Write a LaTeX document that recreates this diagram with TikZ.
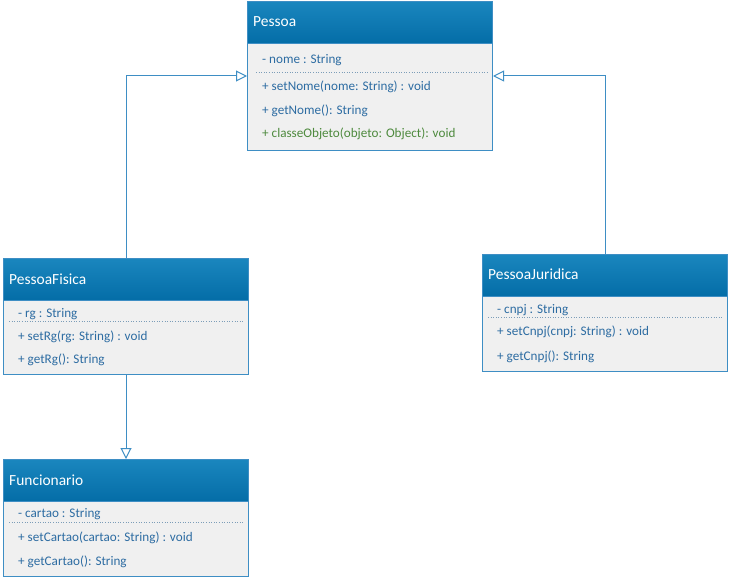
\documentclass[tikz,border=0pt]{standalone}
\usepackage{fontspec}
\setmainfont{Carlito}
\usetikzlibrary{arrows.meta}
\definecolor{umlborder}{HTML}{3E8EC4}
\definecolor{umlheadtop}{HTML}{1A86BE}
\definecolor{umlheadbot}{HTML}{046DA7}
\definecolor{umlbody}{HTML}{F0F0F0}
\definecolor{umltext}{HTML}{2D6CA2}
\definecolor{umlgreen}{HTML}{4E8A3E}
\definecolor{umlsep}{HTML}{7C9DB8}
\tikzset{
  classbox/.style={draw=umlborder, line width=1bp, fill=umlbody, inner sep=0pt, anchor=north west},
  classhead/.style={draw=umlborder, line width=1bp, top color=umlheadtop, bottom color=umlheadbot, inner sep=0pt, anchor=north west},
  classtitle/.style={text=white, font=\fontsize{15.5}{17}\selectfont, anchor=base west, inner sep=0pt},
  member/.style={text=umltext, font=\fontsize{13.2}{15}\selectfont, anchor=base west, inner sep=0pt},
  sepline/.style={umlsep, line width=0.6bp, dotted},
  inherit/.style={draw=umlborder, line width=1bp, -{Triangle[open, length=11bp, width=11bp, fill=white]}},
}
\begin{document}
\begin{tikzpicture}[x=1bp, y=-1bp]
\useasboundingbox (0,0) rectangle (729,577);

% Pessoa
\node[classbox, minimum width=245bp, minimum height=149bp] (pessoa) at (247,1) {};
\node[classhead, minimum width=245bp, minimum height=42bp] (pessoahead) at (pessoa.north west) {};
\node[classtitle] (pessoatitle) at (253,27) {Pessoa};
\node[member] (pessoam1) at (262,64) {- nome : String};
\draw[sepline] (256,72) -- (488,72);
\node[member] (pessoam2) at (262,91) {+ setNome(nome: String) : void};
\node[member] (pessoam3) at (262,115) {+ getNome(): String};
\node[member, text=umlgreen] (pessoam4) at (262,138) {+ classeObjeto(objeto: Object): void};

% PessoaFisica
\node[classbox, minimum width=245bp, minimum height=116bp] (fisica) at (3,258) {};
\node[classhead, minimum width=245bp, minimum height=42bp] (fisicahead) at (fisica.north west) {};
\node[classtitle] (fisicatitle) at (9,284) {PessoaFisica};
\node[member] (fisicam1) at (18,317) {- rg : String};
\draw[sepline] (9,321) -- (244,321);
\node[member] (fisicam2) at (18,340) {+ setRg(rg: String) : void};
\node[member] (fisicam3) at (18,363) {+ getRg(): String};

% PessoaJuridica
\node[classbox, minimum width=245bp, minimum height=117bp] (juridica) at (482,254) {};
\node[classhead, minimum width=245bp, minimum height=42bp] (juridicahead) at (juridica.north west) {};
\node[classtitle] (juridicatitle) at (488,279) {PessoaJuridica};
\node[member] (juridicam1) at (497,313) {- cnpj : String};
\draw[sepline] (488,317) -- (723,317);
\node[member] (juridicam2) at (497,335) {+ setCnpj(cnpj: String) : void};
\node[member] (juridicam3) at (497,360) {+ getCnpj(): String};

% Funcionario
\node[classbox, minimum width=245bp, minimum height=117bp] (func) at (3,459) {};
\node[classhead, minimum width=245bp, minimum height=42bp] (funchead) at (func.north west) {};
\node[classtitle] (functitle) at (9,485) {Funcionario};
\node[member] (funcm1) at (18,517) {- cartao : String};
\draw[sepline] (9,522) -- (244,522);
\node[member] (funcm2) at (18,541) {+ setCartao(cartao: String) : void};
\node[member] (funcm3) at (18,565) {+ getCartao(): String};

% Generalisations
\draw[inherit] (fisicahead.north) |- (pessoa.west);
\draw[inherit] (juridicahead.north) |- (pessoa.east);
\draw[inherit] (fisica.south) -- (funchead.north);
\end{tikzpicture}
\end{document}
